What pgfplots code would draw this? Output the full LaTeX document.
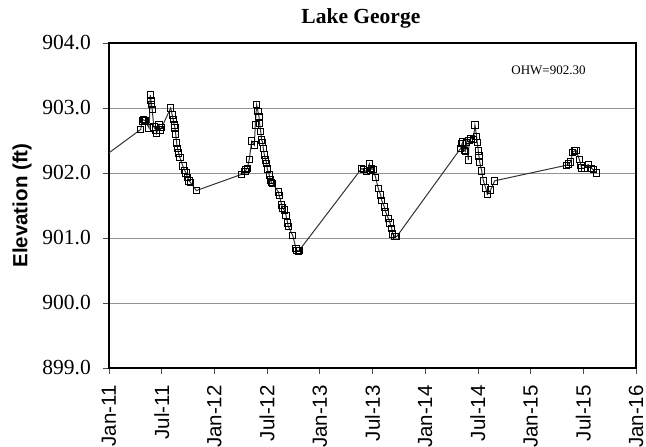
\documentclass[border=0pt]{standalone}
\usepackage{fontspec}
\setmainfont{Liberation Serif}
\newfontfamily\arial{Liberation Sans}
\usepackage{pgfplots}
\pgfplotsset{compat=1.18}
\begin{document}
\begin{tikzpicture}
\begin{axis}[
    scale only axis,
    width=527pt, height=325pt,
    at={(0,0)}, anchor=south west,
    xmin=0, xmax=5, ymin=899, ymax=904,
    xtick={0,0.5,...,5},
    xticklabels={Jan-11,Jul-11,Jan-12,Jul-12,Jan-13,Jul-13,Jan-14,Jul-14,Jan-15,Jul-15,Jan-16},
    ytick={899,900,...,904},
    xtick pos=left, ytick pos=left,
    tick align=outside, major tick length=6pt,
    tick style={black!70, line width=0.6pt},
    axis line style={black, line width=1.4pt},
    ymajorgrids, grid style={gray!85, line width=0.8pt},
    x tick label style={font=\arial\fontsize{20.5}{24}\selectfont, rotate=90, anchor=east, inner sep=0pt, xshift=-11pt},
    y tick label style={font=\fontsize{21.5}{24}\selectfont, inner sep=0pt, xshift=-12pt},
    yticklabel style={/pgf/number format/fixed, /pgf/number format/fixed zerofill,
        /pgf/number format/precision=1, /pgf/number format/1000 sep={},
        /pgf/number format/assume math mode=true},
    title={\textbf{Lake George}},
    title style={font=\fontsize{21.5}{24}\selectfont, at={(0.478,1)}, anchor=base, yshift=13pt},
    ylabel={\textbf{Elevation (ft)}},
    every axis y label/.style={at={(axis description cs:-0.165,0.5)}, rotate=90, anchor=center,
        font=\arial\fontsize{20.5}{24}\selectfont},
]
% lead-in from the earlier reading
\addplot[draw=black!80, line width=1pt] coordinates {(0,902.31) (0.301,902.67)};
% lake elevation readings (x = years after Jan 2011)
\addplot[draw=black!80, line width=1pt, mark=square, mark size=3.2pt,
    mark options={draw=black, line width=0.9pt, solid}] table {
x e
0.301 902.67
0.315 902.80
0.325 902.82
0.335 902.81
0.345 902.80
0.380 902.69
0.392 903.20
0.398 903.12
0.404 903.05
0.410 902.98
0.425 902.71
0.445 902.66
0.452 902.61
0.475 902.74
0.485 902.66
0.500 902.70
0.585 903.00
0.600 902.89
0.610 902.82
0.619 902.74
0.626 902.69
0.633 902.60
0.642 902.46
0.650 902.38
0.660 902.31
0.672 902.24
0.700 902.11
0.718 902.04
0.732 902.00
0.745 901.93
0.760 901.88
0.775 901.85
0.829 901.73
1.259 901.98
1.290 902.02
1.300 902.05
1.312 902.07
1.331 902.21
1.354 902.49
1.379 902.43
1.388 902.74
1.401 903.05
1.413 902.95
1.423 902.87
1.429 902.76
1.439 902.64
1.448 902.51
1.458 902.47
1.464 902.38
1.474 902.28
1.486 902.20
1.496 902.15
1.502 902.06
1.521 901.97
1.531 901.89
1.543 901.85
1.553 901.84
1.606 901.71
1.616 901.65
1.639 901.51
1.648 901.46
1.663 901.43
1.679 901.35
1.695 901.23
1.701 901.18
1.743 901.04
1.774 900.84
1.785 900.81
1.796 900.80
1.805 900.81
2.397 902.07
2.413 902.05
2.445 902.02
2.470 902.14
2.480 902.04
2.492 902.07
2.508 902.05
2.530 901.93
2.555 901.76
2.578 901.66
2.587 901.58
2.612 901.48
2.625 901.40
2.650 901.30
2.667 901.23
2.682 901.15
2.692 901.06
2.713 901.02
2.729 901.02
3.337 902.38
3.350 902.45
3.356 902.48
3.371 902.35
3.380 902.33
3.393 902.47
3.409 902.20
3.416 902.50
3.434 902.53
3.457 902.52
3.472 902.74
3.488 902.56
3.494 902.47
3.504 902.34
3.510 902.26
3.517 902.17
3.536 902.03
3.552 901.88
3.574 901.77
3.590 901.67
3.621 901.74
3.659 901.88
4.342 902.12
4.358 902.14
4.380 902.17
4.399 902.32
4.418 902.34
4.431 902.35
4.462 902.21
4.478 902.12
4.484 902.08
4.509 902.07
4.547 902.13
4.579 902.07
4.595 902.05
4.627 902.00
};
\node[font=\fontsize{13}{15}\selectfont] at (axis cs:4.17,903.58) {OHW=902.30};
\end{axis}
\pgfresetboundingbox
\useasboundingbox (-109pt,-79pt) rectangle (537pt,368pt);
\end{tikzpicture}
\end{document}
